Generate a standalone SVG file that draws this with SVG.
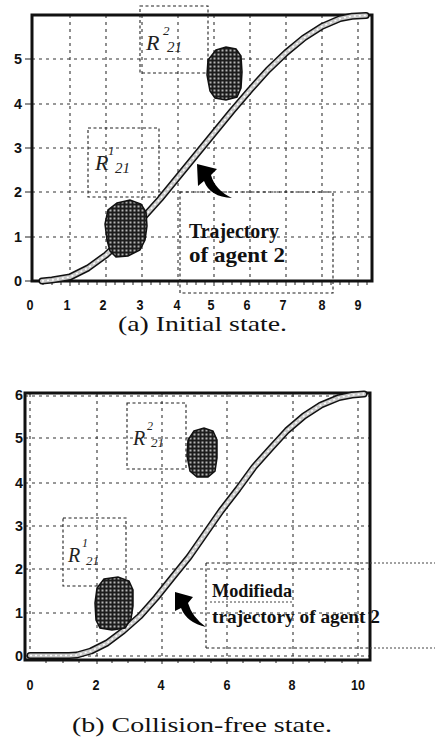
<svg xmlns="http://www.w3.org/2000/svg" width="435" height="747" viewBox="0 0 435 747">
<style>
.bg{fill:#fff}
.frame{fill:none;stroke:#111;stroke-width:3}
.grid{fill:none;stroke:#333;stroke-width:1.1;stroke-dasharray:3 4}
.box{fill:none;stroke:#222;stroke-width:1.1;stroke-dasharray:3 2.5}
.dot{fill:none;stroke:#444;stroke-width:1;stroke-dasharray:2 2}
.tick{stroke:#222;stroke-width:1}
.num{font-family:"Liberation Sans",Arial,sans-serif;font-size:15px;font-weight:bold;fill:#111;text-anchor:middle}
.cap{font-family:"Liberation Serif","Times New Roman",serif;font-size:21px;fill:#111}
.lbl{font-family:"Liberation Serif","Times New Roman",serif;font-size:22px;font-weight:bold;fill:#111}
.R{font-family:"Liberation Serif","Times New Roman",serif;font-style:italic;fill:#222}
.trajO{fill:none;stroke:#111;stroke-width:7;stroke-linecap:round;stroke-linejoin:round}
.trajI{fill:none;stroke:#c8c8c8;stroke-width:4;stroke-linecap:round;stroke-linejoin:round}
.trajD{fill:none;stroke:#fff;stroke-width:1.5;stroke-dasharray:2 3}
.blob{fill:url(#check);stroke:#111;stroke-width:1.5}
.arrow{fill:#000}
</style>
<defs>
<pattern id="check" width="4" height="4" patternUnits="userSpaceOnUse">
<rect width="4" height="4" fill="#1c1c1c"/>
<rect x="1.5" y="1.5" width="2" height="2" fill="#b4b4b4"/>
</pattern>
</defs>
<rect class="bg" width="435" height="747"/>

<g id="plot-a">
<g id="grid-a">
<path class="grid" d="M70,15V281M106,15V281M142,15V281M178,15V281M214,15V281M250,15V281M286,15V281M322,15V281M358,15V281"/>
<path class="grid" d="M32,237H372M32,192H372M32,148H372M32,104H372M32,59H372"/>
</g>
<path class="tick" d="M43,281v4M52,281v4M61,281v4M70,281v5M79,281v4M88,281v4M97,281v4M106,281v5M115,281v4M124,281v4M133,281v4M142,281v5M151,281v4M160,281v4M169,281v4M178,281v5M187,281v4M196,281v4M205,281v4M214,281v5M223,281v4M232,281v4M241,281v4M250,281v5M259,281v4M268,281v4M277,281v4M286,281v5M295,281v4M304,281v4M313,281v4M322,281v5M331,281v4M340,281v4M349,281v4M358,281v5M367,281v4"/>
<path class="tick" d="M25,281h7M25,237h7M25,192h7M25,148h7M25,104h7M25,59h7"/>
<rect class="frame" x="32" y="15" width="340" height="266"/>
<g id="axis-a-y">
<text class="num" x="18" y="286" textLength="8" lengthAdjust="spacingAndGlyphs">0</text>
<text class="num" x="18" y="242" textLength="8" lengthAdjust="spacingAndGlyphs">1</text>
<text class="num" x="18" y="197" textLength="8" lengthAdjust="spacingAndGlyphs">2</text>
<text class="num" x="18" y="153" textLength="8" lengthAdjust="spacingAndGlyphs">3</text>
<text class="num" x="18" y="109" textLength="8" lengthAdjust="spacingAndGlyphs">4</text>
<text class="num" x="18" y="64" textLength="8" lengthAdjust="spacingAndGlyphs">5</text>
</g>
<g id="axis-a-x">
<text class="num" x="30" y="310" textLength="7" lengthAdjust="spacingAndGlyphs">0</text>
<text class="num" x="67" y="310" textLength="7" lengthAdjust="spacingAndGlyphs">1</text>
<text class="num" x="103" y="310" textLength="7" lengthAdjust="spacingAndGlyphs">2</text>
<text class="num" x="140" y="310" textLength="7" lengthAdjust="spacingAndGlyphs">3</text>
<text class="num" x="177" y="310" textLength="7" lengthAdjust="spacingAndGlyphs">4</text>
<text class="num" x="211" y="310" textLength="7" lengthAdjust="spacingAndGlyphs">5</text>
<text class="num" x="247" y="310" textLength="7" lengthAdjust="spacingAndGlyphs">6</text>
<text class="num" x="283" y="310" textLength="7" lengthAdjust="spacingAndGlyphs">7</text>
<text class="num" x="322" y="310" textLength="7" lengthAdjust="spacingAndGlyphs">8</text>
<text class="num" x="358" y="310" textLength="7" lengthAdjust="spacingAndGlyphs">9</text>
</g>
<g id="region-a-R2">
<rect class="box" x="140" y="6" width="68" height="67"/>
<text class="R" x="146" y="50" font-size="22">R</text>
<text class="R" x="163" y="35" font-size="13">2</text>
<text class="R" x="167" y="52" font-size="15">21</text>
</g>
<g id="region-a-R1">
<rect class="box" x="88" y="128" width="71" height="69"/>
<text class="R" x="95" y="170" font-size="22">R</text>
<text class="R" x="108" y="155" font-size="13">1</text>
<text class="R" x="115" y="173" font-size="15">21</text>
</g>
<g id="trajectory-a">
<path class="trajO" d="M42,281 L52,280 L70,277 L88,268 L106,255 L124,238 L142,219 L160,199 L178,177 L196,155 L214,133 L232,111 L250,90 L268,70 L286,52.7 L304,37.9 L322,26.4 L340,18.6 L352,16.2 L366,15.5"/>
<path class="trajI" d="M42,281 L52,280 L70,277 L88,268 L106,255 L124,238 L142,219 L160,199 L178,177 L196,155 L214,133 L232,111 L250,90 L268,70 L286,52.7 L304,37.9 L322,26.4 L340,18.6 L352,16.2 L366,15.5"/>
<path class="trajD" d="M42,281 L52,280 L70,277 L88,268 L106,255 L124,238 L142,219 L160,199 L178,177 L196,155 L214,133 L232,111 L250,90 L268,70 L286,52.7 L304,37.9 L322,26.4 L340,18.6 L352,16.2 L366,15.5"/>
</g>
<g id="obstacle-a1">
<path class="blob" d="M117,203 L130,200 L141,204 L146,212 L147,226 L145,240 L140,250 L128,256 L116,257 L110,251 L107,240 L105,224 L108,210 Z"/>
</g>
<g id="obstacle-a2">
<path class="blob" d="M216,50 L226,47 L236,49 L241,56 L242,72 L241,88 L237,97 L226,100 L215,98 L210,91 L207,75 L208,60 Z"/>
</g>
<g id="label-a">
<rect class="box" x="180" y="192" width="153" height="101"/>
<text class="lbl" x="189" y="238" textLength="90" lengthAdjust="spacingAndGlyphs">Trajectory</text>
<text class="lbl" x="189" y="262" textLength="96" lengthAdjust="spacingAndGlyphs">of agent 2</text>
</g>
<text class="cap" x="118" y="331" textLength="169" lengthAdjust="spacingAndGlyphs">(a) Initial state.</text>
</g>

<g id="plot-b">
<g id="grid-b">
<path class="grid" d="M30,394V656M97,394V660M162,394V660M227,394V660M293,394V660M358,394V660"/>
<path class="grid" d="M25,396H370M25,438H370M25,483H370M25,526H370M25,569H370M25,613H370M25,656H370"/>
</g>
<path class="tick" d="M46,660v3M63,660v3M79,660v3M97,660v4M112,660v3M128,660v3M145,660v3M162,660v4M178,660v3M194,660v3M211,660v3M227,660v4M243,660v3M260,660v3M276,660v3M293,660v4M309,660v3M325,660v3M342,660v3M358,660v4"/>
<rect class="frame" x="25" y="393" width="345" height="267"/>
<g id="axis-b-y">
<text class="num" x="19" y="661" textLength="8" lengthAdjust="spacingAndGlyphs">0</text>
<text class="num" x="19" y="618" textLength="8" lengthAdjust="spacingAndGlyphs">1</text>
<text class="num" x="19" y="574" textLength="8" lengthAdjust="spacingAndGlyphs">2</text>
<text class="num" x="19" y="531" textLength="8" lengthAdjust="spacingAndGlyphs">3</text>
<text class="num" x="19" y="488" textLength="8" lengthAdjust="spacingAndGlyphs">4</text>
<text class="num" x="19" y="443" textLength="8" lengthAdjust="spacingAndGlyphs">5</text>
<text class="num" x="19" y="400" textLength="8" lengthAdjust="spacingAndGlyphs">6</text>
</g>
<g id="axis-b-x">
<text class="num" x="30" y="690" textLength="7" lengthAdjust="spacingAndGlyphs">0</text>
<text class="num" x="96" y="690" textLength="7" lengthAdjust="spacingAndGlyphs">2</text>
<text class="num" x="161" y="690" textLength="7" lengthAdjust="spacingAndGlyphs">4</text>
<text class="num" x="227" y="690" textLength="7" lengthAdjust="spacingAndGlyphs">6</text>
<text class="num" x="292" y="690" textLength="7" lengthAdjust="spacingAndGlyphs">8</text>
<text class="num" x="358" y="690" textLength="14" lengthAdjust="spacingAndGlyphs">10</text>
</g>
<g id="region-b-R2">
<rect class="box" x="127" y="403" width="59" height="66"/>
<text class="R" x="133" y="445" font-size="20">R</text>
<text class="R" x="147" y="430" font-size="12">2</text>
<text class="R" x="151" y="447" font-size="13">21</text>
</g>
<g id="region-b-R1">
<rect class="box" x="63" y="518" width="63" height="68"/>
<text class="R" x="68" y="562" font-size="20">R</text>
<text class="R" x="82" y="547" font-size="12">1</text>
<text class="R" x="86" y="565" font-size="13">21</text>
</g>
<g id="trajectory-b">
<path class="trajO" d="M30,655.5 L69,655.5 L77,655 L91,651 L107,643 L123,631 L140,616 L156,598 L172,578 L189,557 L205,534 L221,511 L238,489 L254,467 L271,448 L287,430.5 L304,416 L321,405 L339,397.6 L352,395 L364,394"/>
<path class="trajI" d="M30,655.5 L69,655.5 L77,655 L91,651 L107,643 L123,631 L140,616 L156,598 L172,578 L189,557 L205,534 L221,511 L238,489 L254,467 L271,448 L287,430.5 L304,416 L321,405 L339,397.6 L352,395 L364,394"/>
<path class="trajD" d="M30,655.5 L69,655.5 L77,655 L91,651 L107,643 L123,631 L140,616 L156,598 L172,578 L189,557 L205,534 L221,511 L238,489 L254,467 L271,448 L287,430.5 L304,416 L321,405 L339,397.6 L352,395 L364,394"/>
</g>
<g id="obstacle-b1">
<path class="blob" d="M104,579 L118,577 L129,581 L133,590 L133,606 L131,619 L125,628 L112,630 L100,628 L96,620 L95,603 L97,588 Z"/>
</g>
<g id="obstacle-b2">
<path class="blob" d="M194,431 L204,428 L213,431 L217,440 L217,458 L215,471 L208,477 L197,477 L190,471 L187,456 L188,440 Z"/>
</g>
<g id="label-b">
<path class="box" d="M206,563V648"/>
<path class="box" d="M206,563H370M206,648H370"/>
<path class="dot" d="M370,563H435M370,648H435"/>
<path class="dot" d="M210,602H292"/>
<text class="lbl" x="212" y="597" textLength="80" lengthAdjust="spacingAndGlyphs" style="font-size:19px">Modifieda</text>
<text class="lbl" x="212" y="623" style="font-size:19px" textLength="168" lengthAdjust="spacingAndGlyphs">trajectory of agent 2</text>
</g>
<text class="cap" x="72" y="732" textLength="260" lengthAdjust="spacingAndGlyphs">(b) Collision-free state.</text>
</g>

<g id="connectors">
<path class="arrow" d="M197,164 L217,169 L211,175 Q215,190 232,198 Q210,197 204,181 L198,186 Z"/>
<path class="arrow" d="M175,592 L193,597 L188,603 Q192,617 206,627 Q187,623 181,608 L175,611 Z"/>
</g>
</svg>
